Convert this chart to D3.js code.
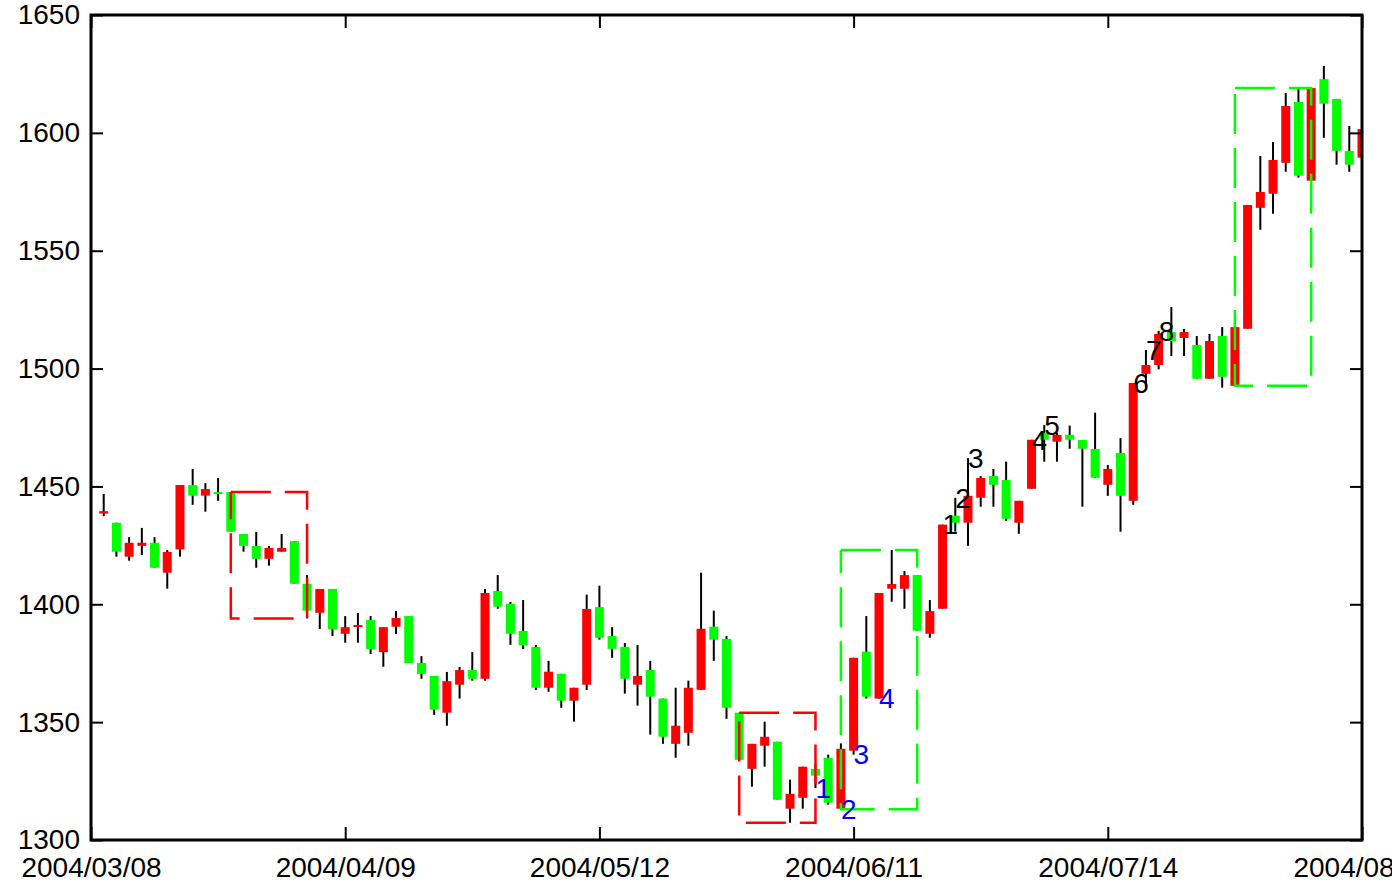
<!DOCTYPE html>
<html>
<head>
<meta charset="utf-8">
<script src="https://cdnjs.cloudflare.com/ajax/libs/d3/7.8.5/d3.min.js"></script>
<style>
  html, body { margin: 0; padding: 0; background: #fff; overflow: hidden; }
  svg { display: block; }
  text { font-family: "Liberation Sans", Arial, sans-serif; }
</style>
</head>
<body>
<div id="chart"></div>
<script>
// Daily candles (index 0 .. 99)
const opens = [
  1438.5, 1434.6, 1420.2, 1424.8, 1426.1, 1413.4, 1423.3, 1450.6, 1446.1, 1447.6,
  1447.6, 1429.8, 1424.7, 1419.3, 1422.3, 1426.8, 1408.7, 1396.4, 1406.5, 1387.5,
  1390.5, 1393.3, 1379.7, 1390.5, 1395.0, 1375.1, 1369.6, 1354.0, 1365.9, 1372.1,
  1368.4, 1405.6, 1400.2, 1388.7, 1381.9, 1364.6, 1370.5, 1359.1, 1365.9, 1398.8,
  1386.5, 1381.9, 1365.9, 1372.1, 1360.0, 1340.8, 1345.5, 1363.7, 1390.5, 1385.3,
  1354.0, 1330.2, 1340.0, 1341.7, 1313.3, 1317.9, 1330.2, 1334.9, 1313.3, 1337.9,
  1379.9, 1360.0, 1406.6, 1406.6, 1412.4, 1387.5, 1398.1, 1437.6, 1434.6, 1445.2,
  1454.4, 1452.7, 1434.6, 1449.0, 1472.8, 1469.0, 1471.9, 1469.7, 1465.9, 1450.7,
  1464.2, 1443.9, 1497.8, 1501.5, 1515.5, 1513.0, 1510.0, 1495.7, 1513.8, 1492.7,
  1516.9, 1568.2, 1574.2, 1587.3, 1613.1, 1579.7, 1622.8, 1614.4, 1592.3, 1589.5
];
const highs = [
  1446.8, 1434.6, 1428.5, 1432.4, 1428.5, 1423.0, 1450.6, 1457.4, 1451.4, 1453.6,
  1447.6, 1429.8, 1430.7, 1424.7, 1429.8, 1426.8, 1412.4, 1406.5, 1406.5, 1395.0,
  1396.3, 1395.0, 1390.3, 1397.1, 1395.0, 1378.0, 1369.6, 1371.3, 1373.4, 1379.7,
  1406.5, 1412.4, 1401.0, 1401.8, 1382.7, 1376.0, 1370.5, 1364.6, 1404.1, 1407.9,
  1390.3, 1383.6, 1382.7, 1376.0, 1360.0, 1364.6, 1367.6, 1413.4, 1397.3, 1386.5,
  1354.0, 1340.8, 1350.2, 1341.7, 1325.6, 1331.1, 1332.4, 1336.2, 1341.0, 1377.3,
  1395.0, 1404.8, 1423.0, 1414.1, 1412.4, 1401.8, 1433.8, 1445.2, 1462.0, 1454.4,
  1457.4, 1460.5, 1443.9, 1469.8, 1476.0, 1472.8, 1475.8, 1469.7, 1481.3, 1459.1,
  1470.5, 1493.9, 1507.9, 1516.0, 1526.1, 1516.8, 1513.8, 1514.7, 1517.6, 1520.6,
  1569.4, 1590.2, 1596.1, 1616.9, 1619.0, 1619.0, 1628.4, 1614.4, 1602.9, 1601.6
];
const lows = [
  1437.4, 1420.2, 1418.5, 1420.9, 1415.5, 1406.6, 1420.2, 1442.2, 1439.3, 1443.9,
  1430.8, 1422.3, 1415.5, 1416.4, 1422.3, 1408.7, 1394.0, 1389.5, 1386.5, 1383.7,
  1383.7, 1378.9, 1373.5, 1387.4, 1375.1, 1368.4, 1353.1, 1348.5, 1360.0, 1367.6,
  1367.6, 1398.1, 1382.8, 1381.0, 1363.7, 1362.9, 1356.1, 1350.2, 1363.7, 1385.0,
  1377.3, 1362.1, 1357.0, 1344.7, 1340.8, 1334.9, 1340.0, 1363.7, 1376.0, 1351.4,
  1334.0, 1322.6, 1331.1, 1317.1, 1307.3, 1313.3, 1322.0, 1315.0, 1313.0, 1336.2,
  1360.0, 1360.0, 1401.1, 1398.1, 1388.8, 1385.8, 1398.1, 1430.8, 1424.8, 1441.4,
  1441.4, 1435.4, 1429.9, 1449.0, 1460.5, 1460.5, 1466.0, 1441.4, 1453.7, 1446.0,
  1430.8, 1442.2, 1492.0, 1499.7, 1505.3, 1505.3, 1495.7, 1495.7, 1491.9, 1492.7,
  1516.9, 1558.9, 1565.7, 1583.5, 1581.0, 1579.7, 1597.9, 1586.5, 1583.5, 1589.5
];
const closes = [
  1439.5, 1422.3, 1426.1, 1426.1, 1415.5, 1422.2, 1450.6, 1446.1, 1448.9, 1446.9,
  1430.8, 1424.8, 1419.3, 1423.9, 1423.9, 1408.7, 1397.3, 1406.5, 1389.5, 1390.3,
  1391.2, 1381.0, 1390.3, 1394.2, 1375.1, 1370.5, 1355.3, 1367.4, 1372.1, 1368.4,
  1404.8, 1399.0, 1387.5, 1382.7, 1364.6, 1371.4, 1359.1, 1364.6, 1398.0, 1385.8,
  1381.1, 1368.4, 1369.6, 1360.8, 1343.8, 1348.5, 1364.6, 1389.6, 1385.0, 1356.1,
  1334.0, 1340.8, 1343.8, 1317.1, 1319.6, 1331.1, 1327.3, 1315.8, 1338.7, 1377.3,
  1360.8, 1404.8, 1408.6, 1412.4, 1388.8, 1397.1, 1433.8, 1434.6, 1446.0, 1453.6,
  1450.7, 1436.3, 1443.9, 1469.8, 1469.8, 1471.9, 1469.8, 1466.0, 1453.7, 1457.4,
  1446.0, 1493.9, 1501.5, 1514.7, 1511.7, 1515.5, 1495.7, 1511.7, 1496.5, 1517.6,
  1569.4, 1574.9, 1588.5, 1611.4, 1581.8, 1619.0, 1612.4, 1592.4, 1586.5, 1601.6
];

// Axis ticks
const dateLabels = ['2004/03/08', '2004/04/09', '2004/05/12', '2004/06/11', '2004/07/14', '2004/08/11'];
const dateTickIdx = [-1, 19, 39, 59, 79, 99];
const priceTicks = [1300, 1350, 1400, 1450, 1500, 1550, 1600, 1650];

// Pattern boxes (first and last candle of each)
const boxStart = [10, 50, 58, 89];
const boxEnd = [16, 56, 64, 95];
const boxKind = ['fall', 'fall', 'rise', 'rise'];

// Numbered marks: blue under lows, black over highs
const blueIdx = [56, 58, 59, 61];
const blueText = ['1', '2', '3', '4'];
const blackIdx = [66, 67, 68, 73, 74, 81, 82, 83];
const blackText = ['1', '2', '3', '4', '5', '6', '7', '8'];

let
w = 1392, h = 885,
padL = 91, padR = 1362, padT = 15, padB = 840,
bodyW = 9,
upColor = '#ff0000',
downColor = '#00ff00',
boxColor = {fall: '#ff0000', rise: '#00ff00'},

candles = opens.map((o, i) => ({i: i, o: o, h: highs[i], l: lows[i], c: closes[i]})),

xScale = d3.scaleLinear().domain([-1, 99]).range([padL, padR]),
yScale = d3.scaleLinear().domain([1300, 1650]).range([padB, padT]),

svg = d3.select('#chart').
append('svg').
attr('width', w).
attr('height', h);

svg.append('clipPath').
attr('id', 'plot-clip').
append('rect').
attr('x', padL).
attr('y', padT).
attr('width', padR - padL).
attr('height', padB - padT);

let plot = svg.append('g').attr('clip-path', 'url(#plot-clip)');

// Wicks first, bodies on top
plot.selectAll('line.wick').
data(candles).
enter().
append('line').
attr('class', 'wick').
attr('x1', d => xScale(d.i)).
attr('x2', d => xScale(d.i)).
attr('y1', d => yScale(d.h)).
attr('y2', d => yScale(d.l)).
attr('stroke', '#000').
attr('stroke-width', 2);

plot.selectAll('rect.body').
data(candles).
enter().
append('rect').
attr('class', 'body').
attr('x', d => xScale(d.i) - bodyW / 2).
attr('y', d => yScale(Math.max(d.o, d.c))).
attr('width', bodyW).
attr('height', d => Math.max(2, Math.abs(yScale(d.o) - yScale(d.c)))).
attr('fill', d => d.c >= d.o ? upColor : downColor);

// Dashed boxes spanning high/low of each candle range
boxStart.forEach((s, k) => {
  let part = candles.slice(s, boxEnd[k] + 1),
  x0 = xScale(s), x1 = xScale(boxEnd[k]),
  y0 = yScale(d3.max(part, d => d.h)), y1 = yScale(d3.min(part, d => d.l));
  plot.append('path').
  attr('d', d3.line()([[x0, y0], [x1, y0], [x1, y1], [x0, y1], [x0, y0]])).
  attr('fill', 'none').
  attr('stroke', boxColor[boxKind[k]]).
  attr('stroke-width', 2.5).
  attr('stroke-dasharray', '40,14');
});

// Number marks
svg.selectAll('text.blue-mark').
data(blueIdx).
enter().
append('text').
attr('class', 'blue-mark').
attr('x', d => xScale(d)).
attr('y', d => yScale(lows[d])).
attr('dy', '0.35em').
attr('font-size', 28).
attr('fill', '#0000ff').
text((d, k) => blueText[k]);

svg.selectAll('text.black-mark').
data(blackIdx).
enter().
append('text').
attr('class', 'black-mark').
attr('x', d => xScale(d)).
attr('y', d => yScale(highs[d])).
attr('dy', '0.35em').
attr('font-size', 28).
attr('fill', '#000').
text((d, k) => blackText[k]);

// Axes with inward ticks on all four sides
let styleAxis = g => {
  g.select('.domain').remove();
  g.selectAll('.tick line').attr('stroke', '#000').attr('stroke-width', 2);
  g.selectAll('.tick text').attr('fill', '#000').attr('font-size', 28).
  attr('font-family', '"Liberation Sans", Arial, sans-serif');
};

svg.append('g').
attr('transform', 'translate(' + padL + ',0)').
call(d3.axisLeft(yScale).tickValues(priceTicks).tickFormat(d3.format('d')).
tickSizeInner(-12).tickSizeOuter(0).tickPadding(11)).
call(styleAxis);

svg.append('g').
attr('transform', 'translate(' + padR + ',0)').
call(d3.axisRight(yScale).tickValues(priceTicks).tickFormat('').
tickSizeInner(-12).tickSizeOuter(0)).
call(styleAxis);

svg.append('g').
attr('transform', 'translate(0,' + padB + ')').
call(d3.axisBottom(xScale).tickValues(dateTickIdx).
tickFormat((d, k) => dateLabels[k]).
tickSizeInner(-13).tickSizeOuter(0).tickPadding(17)).
call(styleAxis);

svg.append('g').
attr('transform', 'translate(0,' + padT + ')').
call(d3.axisTop(xScale).tickValues(dateTickIdx).tickFormat('').
tickSizeInner(-13).tickSizeOuter(0)).
call(styleAxis);

// Plot frame
svg.append('rect').
attr('x', padL).
attr('y', padT).
attr('width', padR - padL).
attr('height', padB - padT).
attr('fill', 'none').
attr('stroke', '#000').
attr('stroke-width', 3);
</script>
</body>
</html>
